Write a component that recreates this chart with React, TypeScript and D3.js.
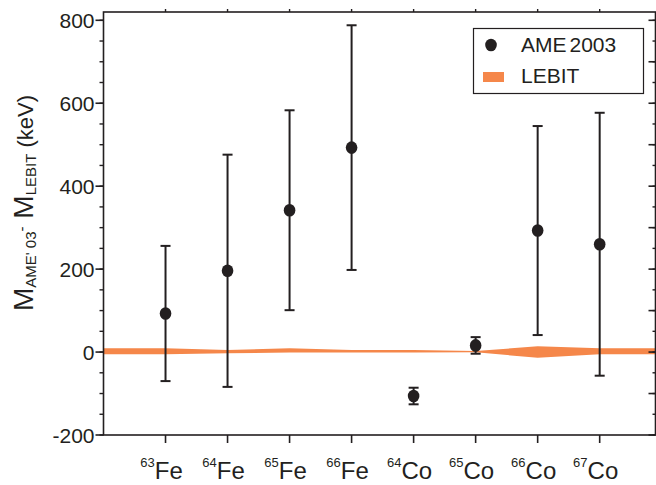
import * as d3 from 'd3';

const masses = ['63', '64', '65', '66', '64', '65', '66', '67'];
const elements = ['Fe', 'Fe', 'Fe', 'Fe', 'Co', 'Co', 'Co', 'Co'];
// AME2003 minus LEBIT, keV
const ameValues = [93, 196, 342, 493, -106, 16, 293, 260];
const ameErrors = [163, 280, 241, 295, 20, 20, 252, 317];
// LEBIT band (centre and half width, keV)
const lebitCenters = [2, 1, 4, 2, 2, 1, 0, 2];
const lebitErrors = [7, 4, 5, 3, 3, 1.5, 14, 7];
const majorTicks = [-200, 0, 200, 400, 600, 800];

const W = 656;
const H = 485;
const ink = '#231f20';
const orange = '#f5874a';
const font = '"Liberation Sans", Arial, Helvetica, sans-serif';

export default function App() {
  const x = d3.scaleLinear().domain([0, 8.9]).range([103.5, 655.5]);
  const y = d3.scaleLinear().domain([-200, 820]).range([435, 12]);
  const idx = masses.map((_, i) => i + 1);

  // band runs from the left frame to the right frame
  const bandPts = [
    { k: 0, c: lebitCenters[0], e: lebitErrors[0] },
    ...idx.map((k, i) => ({ k, c: lebitCenters[i], e: lebitErrors[i] })),
    { k: 8.9, c: lebitCenters[7], e: lebitErrors[7] },
  ];
  const band = d3.area<any>()
    .x(d => x(d.k))
    .y0(d => y(d.c - d.e))
    .y1(d => y(d.c + d.e))(bandPts);

  const minorTicks = d3.range(-200, 801, 50);
  const rightMajor = d3.range(-200, 801, 100);
  const [x0, x1] = x.range();
  const [yb, yt] = y.range();

  return (
    <svg width={W} height={H} style={{ position: 'absolute', left: 0, top: 0, background: '#fff' }} fontFamily={font}>
      <path d={band!} fill={orange} />

      {/* error bars */}
      {idx.map((k, i) => {
        const cx = x(k);
        const top = y(ameValues[i] + ameErrors[i]);
        const bot = y(ameValues[i] - ameErrors[i]);
        return (
          <g key={i} stroke={ink} strokeWidth={2}>
            <line x1={cx} x2={cx} y1={top} y2={bot} />
            <line x1={cx - 5} x2={cx + 5} y1={top} y2={top} />
            <line x1={cx - 5} x2={cx + 5} y1={bot} y2={bot} />
            <ellipse cx={cx} cy={y(ameValues[i])} rx={5.8} ry={6.3} fill={ink} stroke="none" />
          </g>
        );
      })}

      {/* frame */}
      <rect x={x0} y={yt} width={x1 - x0} height={yb - yt} fill="none" stroke={ink} strokeWidth={1.6} />

      {/* left axis */}
      {minorTicks.map(v => (
        <line key={'lm' + v} x1={x0 - 4} x2={x0} y1={y(v)} y2={y(v)} stroke={ink} strokeWidth={1.4} />
      ))}
      {majorTicks.map(v => (
        <g key={'lM' + v}>
          <line x1={x0 - 8} x2={x0} y1={y(v)} y2={y(v)} stroke={ink} strokeWidth={1.6} />
          <text x={x0 - 9} y={y(v)} dy="0.36em" textAnchor="end" fontSize={21} fill={ink}>{v}</text>
        </g>
      ))}

      {/* right axis */}
      {minorTicks.map(v => (
        <line key={'rm' + v} x1={x1 - 3} x2={x1} y1={y(v)} y2={y(v)} stroke={ink} strokeWidth={1.4} />
      ))}
      {rightMajor.map(v => (
        <line key={'rM' + v} x1={x1 - 7} x2={x1} y1={y(v)} y2={y(v)} stroke={ink} strokeWidth={1.6} />
      ))}

      {/* top and bottom ticks, labels */}
      {idx.map((k, i) => (
        <g key={'x' + i}>
          <line x1={x(k)} x2={x(k)} y1={yt} y2={yt - 3} stroke={ink} strokeWidth={1.4} />
          <line x1={x(k)} x2={x(k)} y1={yb} y2={yb + 8} stroke={ink} strokeWidth={1.6} />
          <text x={x(k) - 4} y={479} textAnchor="middle" fill={ink}>
            <tspan fontSize={13} dy={-12}>{masses[i]}</tspan>
            <tspan fontSize={24} dy={12}>{elements[i]}</tspan>
          </text>
        </g>
      ))}

      {/* y label */}
      <text transform="translate(33,203) rotate(-90)" textAnchor="middle" fill={ink} fontSize={22}>
        <tspan fontSize={28}>M</tspan>
        <tspan fontSize={15} dy={3}>AME' 03</tspan>
        <tspan fontSize={15} dy={-9}>-</tspan>
        <tspan fontSize={28} dy={6}> M</tspan>
        <tspan fontSize={15} dy={3}>LEBIT</tspan>
        <tspan dy={-3}> (keV)</tspan>
      </text>

      {/* legend */}
      <rect x={473.5} y={28.5} width={170} height={65} fill="#fff" stroke={ink} strokeWidth={1.2} />
      <ellipse cx={491} cy={45} rx={5.8} ry={6.3} fill={ink} />
      <text x={521} y={52} fontSize={21} fill={ink}>AME<tspan dx={3}>2003</tspan></text>
      <rect x={483} y={72} width={21} height={10} fill={orange} />
      <text x={521} y={83} fontSize={21} fill={ink}>LEBIT</text>
    </svg>
  );
}
